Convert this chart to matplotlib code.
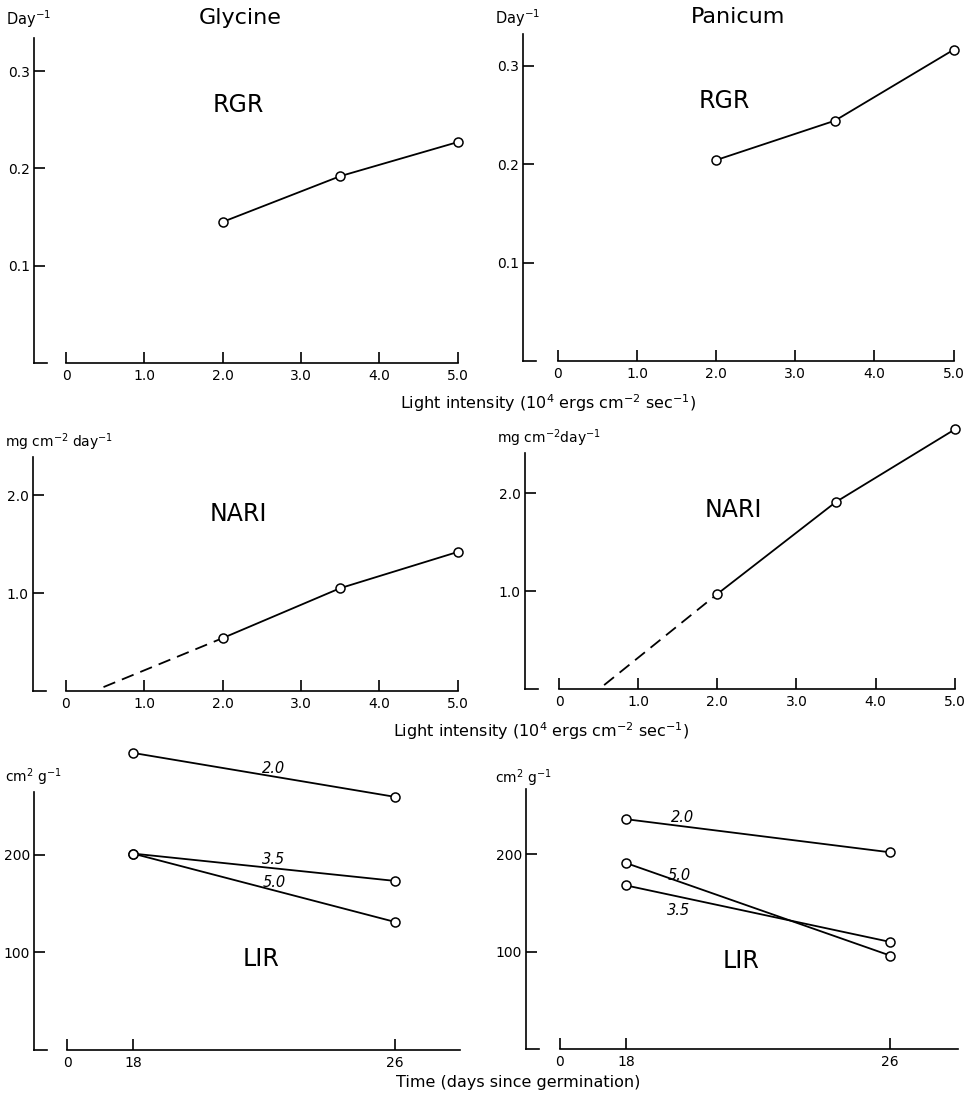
import matplotlib.pyplot as plt

# light intensity (10^4 ergs cm-2 sec-1)
light = [2.0, 3.5, 5.0]
gly_rgr = [0.145, 0.192, 0.227]
pan_rgr = [0.204, 0.244, 0.316]
gly_nari = [0.54, 1.05, 1.42]
pan_nari = [0.97, 1.91, 2.65]
# dashed extrapolation of NARI towards the x axis
gly_ext_x = [0.48, 2.0]
gly_ext_y = [0.04, 0.54]
pan_ext_x = [0.57, 2.0]
pan_ext_y = [0.04, 0.97]

# LIR, days 18 and 26, one line per light intensity
days = [18, 26]
lir_levels = ['2.0', '3.5', '5.0']
gly_lir = [[304, 259], [201, 173], [201, 131]]
pan_lir = [[236, 202], [168, 110], [191, 96]]

light_ticks = [0, 1.0, 2.0, 3.0, 4.0, 5.0]
light_ticklabels = ['0', '1.0', '2.0', '3.0', '4.0', '5.0']
day_ticklabels = ['0', '18', '26']

W, H = 969, 1106
fig = plt.figure(figsize=(W / 100, H / 100), dpi=100)
plt.rcParams['font.family'] = 'DejaVu Sans'

def px_axes(l, t, r, b):
    return fig.add_axes([l / W, 1 - b / H, (r - l) / W, (b - t) / H])

def style(ax, xlo, xhi, ylo, yhi, yt, ytl, stub=0.03):
    ax.set_xlim(xlo, xhi)
    ax.set_ylim(ylo, yhi)
    for s in ['top', 'right']:
        ax.spines[s].set_visible(False)
    ax.spines['left'].set_linewidth(1.2)
    ax.spines['bottom'].set_linewidth(1.2)
    ax.set_yticks(yt)
    ax.set_yticklabels(ytl)
    ax.tick_params(direction='in', length=8, width=1.2, labelsize=10, pad=4)
    ax.tick_params(axis='y', length=8, pad=3)
    ax.axhline(ylo, xmin=0, xmax=stub, color='k', lw=1.2, clip_on=False)

def marks(ax, x, y):
    ax.plot(x, y, '-o', color='k', lw=1.3, ms=6.5, mfc='white', mec='k', mew=1.1,
            clip_on=False, zorder=3)

def line_label(ax, x, y, s):
    ax.text(x, y, s, fontsize=10.5, style='italic', ha='center', va='center')

# --- RGR ---
ax1 = px_axes(34, 38, 460, 363)
style(ax1, -0.41, 5.03, 0, 0.334, [0.1, 0.2, 0.3], ['0.1', '0.2', '0.3'])
ax1.spines['bottom'].set_bounds(0, 5)
ax1.set_xticks(light_ticks)
ax1.set_xticklabels(light_ticklabels)
marks(ax1, light, gly_rgr)
ax1.text(2.2, 0.265, 'RGR', fontsize=17, ha='center', va='center')

ax2 = px_axes(523, 34, 956, 361)
style(ax2, -0.44, 5.03, 0, 0.332, [0.1, 0.2, 0.3], ['0.1', '0.2', '0.3'])
ax2.spines['bottom'].set_bounds(0, 5)
ax2.set_xticks(light_ticks)
ax2.set_xticklabels(light_ticklabels)
marks(ax2, light, pan_rgr)
ax2.text(2.1, 0.264, 'RGR', fontsize=17, ha='center', va='center')

# --- NARI ---
ax3 = px_axes(33, 457, 460, 691)
style(ax3, -0.42, 5.03, 0, 2.39, [1.0, 2.0], ['1.0', '2.0'])
ax3.spines['bottom'].set_bounds(0, 5)
ax3.set_xticks(light_ticks)
ax3.set_xticklabels(light_ticklabels)
ax3.plot(gly_ext_x, gly_ext_y, color='k', lw=1.3, ls=(0, (7, 4)))
marks(ax3, light, gly_nari)
ax3.text(2.2, 1.81, 'NARI', fontsize=17, ha='center', va='center')

ax4 = px_axes(525, 453, 957, 689)
style(ax4, -0.43, 5.03, 0, 2.41, [1.0, 2.0], ['1.0', '2.0'])
ax4.spines['bottom'].set_bounds(0, 5)
ax4.set_xticks(light_ticks)
ax4.set_xticklabels(light_ticklabels)
ax4.plot(pan_ext_x, pan_ext_y, color='k', lw=1.3, ls=(0, (7, 4)))
marks(ax4, light, pan_nari)
ax4.text(2.2, 1.83, 'NARI', fontsize=17, ha='center', va='center')

# --- LIR ---
zero_pos = 16.0
ax5 = px_axes(34, 792, 460, 1050)
style(ax5, 14.98, 27.98, 0, 264, [100, 200], ['100', '200'])
ax5.spines['bottom'].set_bounds(zero_pos, 27.98)
ax5.set_xticks([zero_pos] + days)
ax5.set_xticklabels(day_ticklabels)
for vals in gly_lir:
    marks(ax5, days, vals)
line_label(ax5, 22.3, 288, lir_levels[0])
line_label(ax5, 22.3, 195, lir_levels[1])
line_label(ax5, 22.3, 171, lir_levels[2])
ax5.text(21.9, 93, 'LIR', fontsize=17, ha='center', va='center')

ax6 = px_axes(526, 789, 958, 1049)
style(ax6, 14.97, 28.06, 0, 267, [100, 200], ['100', '200'])
ax6.spines['bottom'].set_bounds(zero_pos, 28.06)
ax6.set_xticks([zero_pos] + days)
ax6.set_xticklabels(day_ticklabels)
for vals in pan_lir:
    marks(ax6, days, vals)
line_label(ax6, 19.7, 238, lir_levels[0])
line_label(ax6, 19.6, 142, lir_levels[1])
line_label(ax6, 19.6, 178, lir_levels[2])
ax6.text(21.5, 90, 'LIR', fontsize=17, ha='center', va='center')

# headings and units
fig.text(240 / W, 1 - 18 / H, 'Glycine', fontsize=16, ha='center', va='center')
fig.text(738 / W, 1 - 17 / H, 'Panicum', fontsize=16, ha='center', va='center')
fig.text(6 / W, 1 - 19 / H, 'Day$^{-1}$', fontsize=10.5, ha='left', va='center')
fig.text(495 / W, 1 - 18 / H, 'Day$^{-1}$', fontsize=10.5, ha='left', va='center')
fig.text(5 / W, 1 - 442 / H, 'mg cm$^{-2}$ day$^{-1}$', fontsize=10, ha='left', va='center')
fig.text(497 / W, 1 - 438 / H, 'mg cm$^{-2}$day$^{-1}$', fontsize=10, ha='left', va='center')
fig.text(5 / W, 1 - 777 / H, 'cm$^2$ g$^{-1}$', fontsize=10, ha='left', va='center')
fig.text(495 / W, 1 - 778 / H, 'cm$^2$ g$^{-1}$', fontsize=10, ha='left', va='center')

xlab = 'Light intensity (10$^4$ ergs cm$^{-2}$ sec$^{-1}$)'
fig.text(548 / W, 1 - 403 / H, xlab, fontsize=11.5, ha='center', va='center')
fig.text(541 / W, 1 - 731 / H, xlab, fontsize=11.5, ha='center', va='center')
fig.text(518 / W, 1 - 1082 / H, 'Time (days since germination)', fontsize=11.5,
         ha='center', va='center')

fig.savefig('out.png', dpi=100)
